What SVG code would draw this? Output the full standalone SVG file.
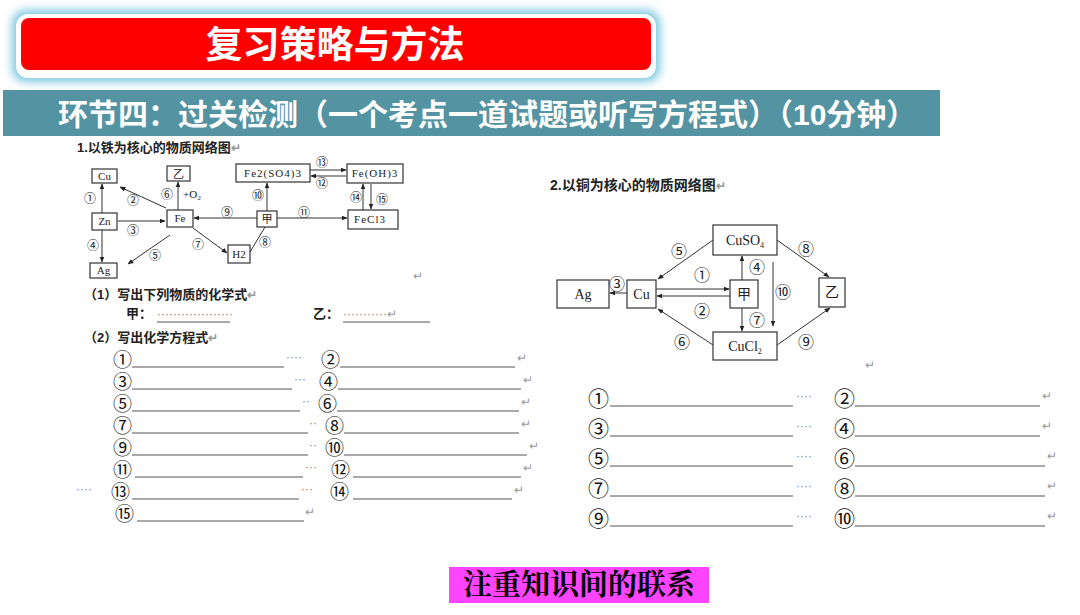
<svg xmlns="http://www.w3.org/2000/svg" width="1080" height="615" viewBox="0 0 1080 615">
<defs>
<marker id="ah" viewBox="0 0 10 10" refX="9" refY="5" markerWidth="6" markerHeight="6" orient="auto"><path d="M0,1 L10,5 L0,9 z" fill="#222"/></marker>
<filter id="glow" x="-10%" y="-40%" width="120%" height="180%"><feGaussianBlur stdDeviation="5"/></filter>
<style>
text{font-family:"Liberation Sans","Noto Sans CJK SC",sans-serif;fill:#222}
.b{fill:#fff;stroke:#333;stroke-width:1.2}
.s{font-family:"Liberation Serif","Noto Sans CJK SC",serif;font-size:11px}
.t{font-family:"Liberation Serif","Noto Sans CJK SC",serif;font-size:14px}
.l{font-size:12px;font-family:"Noto Sans CJK SC",sans-serif}
.c{stroke:#333;stroke-width:1;fill:none;marker-end:url(#ah)}
.u{stroke:#555;stroke-width:1}
.n{font-size:19px;font-family:"Noto Sans CJK SC",sans-serif;fill:#111}
.d{font-size:12px;fill:#888}
.r{font-size:12px;fill:#999}
</style>
</defs>
<rect width="1080" height="615" fill="#fff"/>
<g id="header">
<rect x="12" y="10" width="648" height="72" rx="14" fill="#7cc8e0" filter="url(#glow)"/>
<rect x="16" y="14" width="640" height="64" rx="12" fill="#fff"/>
<rect x="21" y="18" width="630" height="52" rx="8" fill="#fe0000"/>
<text x="335" y="58" text-anchor="middle" font-size="37" font-weight="bold" style="fill:#fff">复习策略与方法</text>
</g>
<g id="banner">
<rect x="3" y="90" width="937" height="46" fill="#5393a2"/>
<text x="58" y="125" font-size="30" font-weight="bold" style="fill:#fff">环节四：过关检测（一个考点一道试题或听写方程式）（10分钟）</text>
</g>
<text x="77" y="152" font-size="13" font-weight="bold">1.以铁为核心的物质网络图<tspan class="r">↵</tspan></text>
<g id="fe-nodes">
<g id="n-cu"><rect class="b" x="92" y="169" width="25" height="14"/><text class="s" x="104.5" y="180" text-anchor="middle">Cu</text></g>
<g id="n-yi"><rect class="b" x="167" y="166" width="23" height="15"/><text class="s" x="178.5" y="178" text-anchor="middle">乙</text></g>
<g id="n-fe2so4"><rect class="b" x="236" y="164" width="74" height="18"/><text class="s" x="273" y="177" text-anchor="middle" letter-spacing="1">Fe2(SO4)3</text></g>
<g id="n-feoh"><rect class="b" x="347" y="164" width="56" height="19"/><text class="s" x="375" y="177" text-anchor="middle" letter-spacing="1">Fe(OH)3</text></g>
<g id="n-zn"><rect class="b" x="92" y="213" width="25" height="17"/><text class="s" x="104.5" y="225" text-anchor="middle">Zn</text></g>
<g id="n-fe"><rect class="b" x="167" y="210" width="26" height="17"/><text class="s" x="180" y="222" text-anchor="middle">Fe</text></g>
<g id="n-jia"><rect class="b" x="257" y="211" width="20" height="16"/><text class="s" x="267" y="223" text-anchor="middle">甲</text></g>
<g id="n-fecl3"><rect class="b" x="348" y="210" width="50" height="19"/><text class="s" x="370" y="223" text-anchor="middle" letter-spacing="1">FeCl3</text></g>
<g id="n-h2"><rect class="b" x="228" y="245" width="22" height="18"/><text class="s" x="239" y="258" text-anchor="middle">H2</text></g>
<g id="n-ag"><rect class="b" x="90" y="263" width="27" height="15"/><text class="s" x="103.5" y="274" text-anchor="middle">Ag</text></g>
</g>
<g id="fe-connectors">
<line class="c" x1="102" y1="213" x2="102" y2="184"/>
<line class="c" x1="166" y1="208" x2="120" y2="187"/>
<line class="c" x1="178" y1="210" x2="178" y2="182"/>
<line class="c" x1="118" y1="221" x2="165" y2="221"/>
<line class="c" x1="102" y1="230" x2="102" y2="262"/>
<line class="c" x1="170" y1="235" x2="128" y2="264"/>
<line class="c" x1="193" y1="228" x2="227" y2="253"/>
<line x1="265" y1="227" x2="250" y2="252" stroke="#333"/>
<line class="c" x1="257" y1="218" x2="194" y2="218"/>
<line class="c" x1="277" y1="218" x2="347" y2="218"/>
<line class="c" x1="267" y1="211" x2="267" y2="183"/>
<line class="c" x1="310" y1="170" x2="346" y2="170"/>
<line class="c" x1="346" y1="176" x2="311" y2="176"/>
<line class="c" x1="363" y1="210" x2="363" y2="184"/>
<line class="c" x1="371" y1="184" x2="371" y2="209"/>
</g>
<g id="fe-labels" class="l">
<text x="84" y="203">①</text><text x="127" y="205">②</text><text x="127" y="235">③</text>
<text x="87" y="250">④</text><text x="149" y="260">⑤</text><text x="161" y="199">⑥</text>
<text x="183" y="198" class="s">+O₂</text><text x="192" y="249">⑦</text><text x="259" y="247">⑧</text>
<text x="221" y="217">⑨</text><text x="252" y="200">⑩</text><text x="298" y="217">⑪</text>
<text x="316" y="167">⑬</text><text x="316" y="188">⑫</text><text x="350" y="202">⑭</text><text x="376" y="204">⑮</text>
<text x="413" y="280" class="r">↵</text>
</g>
<g id="q-left">
<text x="84" y="299" font-size="13" font-weight="bold">（1）写出下列物质的化学式<tspan class="r">↵</tspan></text>
<text x="126" y="318" font-size="13" font-weight="bold">甲：</text>
<text x="157" y="318" class="d">···················</text>
<line class="u" x1="157" y1="322" x2="230" y2="322"/>
<text x="313" y="318" font-size="13" font-weight="bold">乙：</text>
<text x="343" y="318" class="d">···········<tspan class="r">↵</tspan></text>
<line class="u" x1="343" y1="322" x2="430" y2="322"/>
<text x="84" y="342" font-size="13" font-weight="bold">（2）写出化学方程式<tspan class="r">↵</tspan></text>
<text class="n" x="113" y="367">①</text><line class="u" x1="132" y1="367" x2="284" y2="367"/><text class="d" x="286" y="361">····</text>
<text class="n" x="321" y="367">②</text><line class="u" x1="340" y1="367" x2="515" y2="367"/><text class="r" x="517" y="362">↵</text>
<text class="n" x="113" y="389">③</text><line class="u" x1="132" y1="389" x2="292" y2="389"/><text class="d" x="294" y="383">···</text>
<text class="n" x="319" y="389">④</text><line class="u" x1="338" y1="389" x2="521" y2="389"/><text class="r" x="523" y="384">↵</text>
<text class="n" x="113" y="411">⑤</text><line class="u" x1="132" y1="411" x2="300" y2="411"/><text class="d" x="302" y="405">··</text>
<text class="n" x="318" y="411">⑥</text><line class="u" x1="337" y1="411" x2="519" y2="411"/><text class="r" x="521" y="406">↵</text>
<text class="n" x="113" y="433">⑦</text><line class="u" x1="132" y1="433" x2="308" y2="433"/><text class="d" x="309" y="427">··</text>
<text class="n" x="325" y="433">⑧</text><line class="u" x1="344" y1="433" x2="519" y2="433"/><text class="r" x="521" y="428">↵</text>
<text class="n" x="113" y="455">⑨</text><line class="u" x1="132" y1="455" x2="308" y2="455"/><text class="d" x="309" y="449">··</text>
<text class="n" x="325" y="455">⑩</text><line class="u" x1="344" y1="455" x2="527" y2="455"/><text class="r" x="529" y="450">↵</text>
<text class="n" x="113" y="477">⑪</text><line class="u" x1="135" y1="477" x2="303" y2="477"/><text class="d" x="305" y="471">···</text>
<text class="n" x="331" y="477">⑫</text><line class="u" x1="353" y1="477" x2="521" y2="477"/><text class="r" x="523" y="472">↵</text>
<text class="d" x="76" y="493">····</text>
<text class="n" x="111" y="499">⑬</text><line class="u" x1="132" y1="499" x2="299" y2="499"/><text class="d" x="301" y="493">···</text>
<text class="n" x="330" y="499">⑭</text><line class="u" x1="353" y1="499" x2="512" y2="499"/><text class="r" x="514" y="494">↵</text>
<text class="n" x="115" y="521">⑮</text><line class="u" x1="137" y1="521" x2="304" y2="521"/><text class="r" x="305" y="516">↵</text>
</g>
<text x="550" y="190" font-size="14" font-weight="bold">2.以铜为核心的物质网络图<tspan class="r">↵</tspan></text>
<g id="cu-nodes">
<g id="m-ag"><rect class="b" x="557" y="280" width="52" height="28"/><text class="t" x="583" y="299" text-anchor="middle">Ag</text></g>
<g id="m-cu"><rect class="b" x="627" y="280" width="29" height="28"/><text class="t" x="641.5" y="299" text-anchor="middle">Cu</text></g>
<g id="m-cuso4"><rect class="b" x="713" y="225" width="64" height="30"/><text class="t" x="745" y="245" text-anchor="middle">CuSO<tspan font-size="8" dy="3">4</tspan></text></g>
<g id="m-jia"><rect class="b" x="730" y="280" width="28" height="28"/><text class="t" x="744" y="299" text-anchor="middle">甲</text></g>
<g id="m-yi"><rect class="b" x="819" y="278" width="26" height="29"/><text class="t" x="832" y="297" text-anchor="middle">乙</text></g>
<g id="m-cucl2"><rect class="b" x="713" y="332" width="64" height="28"/><text class="t" x="745" y="351" text-anchor="middle">CuCl<tspan font-size="8" dy="3">2</tspan></text></g>
</g>
<g id="cu-connectors">
<line class="c" x1="713" y1="240" x2="658" y2="279"/>
<line class="c" x1="627" y1="293" x2="610" y2="293"/>
<line class="c" x1="656" y1="289" x2="729" y2="289"/>
<line class="c" x1="730" y1="296" x2="657" y2="296"/>
<line class="c" x1="742" y1="280" x2="742" y2="256"/>
<line class="c" x1="742" y1="308" x2="742" y2="331"/>
<line class="c" x1="773" y1="262" x2="773" y2="326"/>
<line class="c" x1="777" y1="240" x2="829" y2="277"/>
<line class="c" x1="777" y1="345" x2="830" y2="308"/>
<line class="c" x1="713" y1="345" x2="658" y2="309"/>
</g>
<g id="cu-labels" class="l" style="font-size:16px">
<text x="671" y="257">⑤</text><text x="609" y="290">③</text>
<text x="694" y="281">①</text><text x="694" y="317">②</text>
<text x="749" y="273">④</text><text x="749" y="326">⑦</text>
<text x="775" y="298">⑩</text><text x="798" y="255">⑧</text>
<text x="798" y="348">⑨</text><text x="674" y="348">⑥</text>
<text x="865" y="369" class="r">↵</text>
</g>
<g id="q-right" style="font-size:21px">
<text class="n" x="588" y="406" style="font-size:21px">①</text><line class="u" x1="610" y1="406" x2="793" y2="406"/><text class="d" x="796" y="400">····</text>
<text class="n" x="834" y="406" style="font-size:21px">②</text><line class="u" x1="855" y1="406" x2="1040" y2="406"/><text class="r" x="1042" y="400">↵</text>
<text class="n" x="588" y="436" style="font-size:21px">③</text><line class="u" x1="610" y1="436" x2="793" y2="436"/><text class="d" x="796" y="430">····</text>
<text class="n" x="834" y="436" style="font-size:21px">④</text><line class="u" x1="855" y1="436" x2="1040" y2="436"/><text class="r" x="1042" y="430">↵</text>
<text class="n" x="588" y="466" style="font-size:21px">⑤</text><line class="u" x1="610" y1="466" x2="793" y2="466"/><text class="d" x="796" y="460">····</text>
<text class="n" x="834" y="466" style="font-size:21px">⑥</text><line class="u" x1="855" y1="466" x2="1045" y2="466"/><text class="r" x="1047" y="460">↵</text>
<text class="n" x="588" y="496" style="font-size:21px">⑦</text><line class="u" x1="610" y1="496" x2="793" y2="496"/><text class="d" x="796" y="490">····</text>
<text class="n" x="834" y="496" style="font-size:21px">⑧</text><line class="u" x1="855" y1="496" x2="1045" y2="496"/><text class="r" x="1047" y="490">↵</text>
<text class="n" x="588" y="526" style="font-size:21px">⑨</text><line class="u" x1="610" y1="526" x2="793" y2="526"/><text class="d" x="796" y="520">····</text>
<text class="n" x="834" y="526" style="font-size:21px">⑩</text><line class="u" x1="855" y1="526" x2="1045" y2="526"/><text class="r" x="1047" y="520">↵</text>
</g>
<g id="footer">
<rect x="449" y="567" width="260" height="36" fill="#ff44ff"/>
<text x="579" y="595" text-anchor="middle" font-size="29" font-weight="bold" style="font-family:'Noto Serif CJK SC','Liberation Serif','Noto Sans CJK SC',serif;fill:#000">注重知识间的联系</text>
</g>
</svg>
